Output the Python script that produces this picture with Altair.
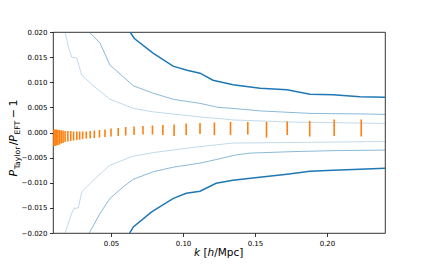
import altair as alt
import pandas as pd

# ---- data ----
# error bars (orange): k, lower, upper
eb_k = [0.0104, 0.0112, 0.0121, 0.0131, 0.0142, 0.0154, 0.0167, 0.0181, 0.0200, 0.0220,
        0.0240, 0.0262, 0.0282, 0.0303, 0.0328, 0.0355, 0.0384, 0.0420, 0.0458, 0.0500,
        0.0550, 0.0602, 0.0660, 0.0722, 0.0788, 0.0860, 0.0938, 0.1022, 0.1118, 0.1218,
        0.1330, 0.1450, 0.1580, 0.1724, 0.1880, 0.2050, 0.2238]
eb_lo = [-0.0027, -0.0027, -0.0026, -0.0025, -0.0024, -0.0022, -0.0021, -0.0019, -0.0018, -0.0017,
         -0.0016, -0.0015, -0.0014, -0.0013, -0.0012, -0.0012, -0.0011, -0.0010, -0.0009, -0.0008,
         -0.0007, -0.0006, -0.0005, -0.0004, -0.0004, -0.0005, -0.0007, -0.0005, -0.0003, -0.0005,
         -0.0005, -0.0004, -0.0010, -0.0005, -0.0008, -0.0007, -0.0008]
eb_hi = [0.0006, 0.0006, 0.0006, 0.0005, 0.0005, 0.0004, 0.0004, 0.0003, 0.0003, 0.0003,
         0.0002, 0.0002, 0.0002, 0.0002, 0.0002, 0.0003, 0.0004, 0.0005, 0.0006, 0.0008,
         0.0009, 0.0011, 0.0012, 0.0013, 0.0014, 0.0015, 0.0016, 0.0018, 0.0019, 0.0020,
         0.0021, 0.0021, 0.0021, 0.0022, 0.0023, 0.0026, 0.0026]

# thick (dark) envelope
thick_up_k = [0.0632, 0.0662, 0.0792, 0.0931, 0.1028, 0.1118, 0.1208, 0.1347, 0.1535, 0.1722, 0.1882, 0.2042, 0.2229, 0.2403]
thick_up_v = [0.0200, 0.0187, 0.0158, 0.0132, 0.0124, 0.0118, 0.0104, 0.0095, 0.0088, 0.0085, 0.0076, 0.0075, 0.0071, 0.0070]
thick_lo_k = [0.0630, 0.0655, 0.0782, 0.0933, 0.1023, 0.1118, 0.1230, 0.1347, 0.1500, 0.1722, 0.1882, 0.2042, 0.2229, 0.2403]
thick_lo_v = [-0.0200, -0.0188, -0.0158, -0.0131, -0.0121, -0.0117, -0.0101, -0.0095, -0.0090, -0.0083, -0.0077, -0.0075, -0.0073, -0.0071]

# medium envelope
mid_up_k = [0.0349, 0.0424, 0.0493, 0.0585, 0.0655, 0.0794, 0.0933, 0.1118, 0.1243, 0.1347, 0.1535, 0.1882, 0.2229, 0.2403]
mid_up_v = [0.0200, 0.0178, 0.0134, 0.0111, 0.0093, 0.0078, 0.0066, 0.0058, 0.0050, 0.0048, 0.0043, 0.0038, 0.0037, 0.0036]
mid_lo_k = [0.0349, 0.0424, 0.0493, 0.0585, 0.0655, 0.0794, 0.0933, 0.1118, 0.1243, 0.1361, 0.1465, 0.1767, 0.2063, 0.2403]
mid_lo_v = [-0.0200, -0.0161, -0.0131, -0.0108, -0.0093, -0.0078, -0.0069, -0.0061, -0.0053, -0.0045, -0.0041, -0.0038, -0.0036, -0.0035]

# faint envelope
faint_up_k = [0.0181, 0.0203, 0.0227, 0.0262, 0.0297, 0.0377, 0.0493, 0.0655, 0.0794, 0.1118, 0.1243, 0.1347, 0.1722, 0.2403]
faint_up_v = [0.0200, 0.0171, 0.0150, 0.0148, 0.0114, 0.0093, 0.0066, 0.0048, 0.0041, 0.0031, 0.0028, 0.0025, 0.0021, 0.0018]
faint_lo_k = [0.0181, 0.0227, 0.0243, 0.0273, 0.0297, 0.0377, 0.0493, 0.0655, 0.0794, 0.1118, 0.1347, 0.1722, 0.2403]
faint_lo_v = [-0.0200, -0.0161, -0.0151, -0.0150, -0.0118, -0.0095, -0.0065, -0.0047, -0.0040, -0.0028, -0.0021, -0.0020, -0.0018]

x_ticks = [0.05, 0.10, 0.15, 0.20]
y_ticks = [-0.020, -0.015, -0.010, -0.005, 0.000, 0.005, 0.010, 0.015, 0.020]
x_domain = [0.0097, 0.2403]
y_domain = [-0.020, 0.020]

W, H = 332, 201
FONT = "DejaVu Sans"

x_axis = alt.Axis(values=x_ticks, format=".2f", title=None)
y_axis = alt.Axis(values=y_ticks, format=".3f", title=None)


def curve_df(ks, vs, name):
    return pd.DataFrame({"k": ks, "v": vs, "c": name, "o": list(range(len(ks)))})


xs = alt.X("k:Q", scale=alt.Scale(domain=x_domain, nice=False, zero=False), axis=x_axis)
ys = alt.Y("v:Q", scale=alt.Scale(domain=y_domain, nice=False, zero=False), axis=y_axis)


def envelope(dfs, color, width, opacity):
    df = pd.concat(dfs, ignore_index=True)
    return alt.Chart(df).mark_line(color=color, strokeWidth=width, opacity=opacity, clip=True).encode(
        x=xs, y=ys, detail="c:N", order="o:Q")


faint = envelope([curve_df(faint_up_k, faint_up_v, "u"), curve_df(faint_lo_k, faint_lo_v, "l")],
                 "#1f77b4", 0.8, 0.35)
mid = envelope([curve_df(mid_up_k, mid_up_v, "u"), curve_df(mid_lo_k, mid_lo_v, "l")],
               "#1f77b4", 0.8, 0.65)
thick = envelope([curve_df(thick_up_k, thick_up_v, "u"), curve_df(thick_lo_k, thick_lo_v, "l")],
                 "#1f77b4", 1.5, 1.0)

eb_df = pd.DataFrame({"k": eb_k, "lo": eb_lo, "hi": eb_hi})
bars = alt.Chart(eb_df).mark_rule(color="#ff7f0e", strokeWidth=1.6, clip=True).encode(
    x=alt.X("k:Q", scale=alt.Scale(domain=x_domain, nice=False, zero=False), axis=x_axis),
    y=alt.Y("lo:Q", scale=alt.Scale(domain=y_domain, nice=False, zero=False), axis=y_axis),
    y2="hi:Q")

one = pd.DataFrame({"a": [0]})


def piece(text, x, y, size, italic=False, angle=0):
    kw = dict(text=text, font=FONT, fontSize=size, align="left", baseline="alphabetic", color="black")
    if italic:
        kw["fontStyle"] = "italic"
    if angle:
        kw["angle"] = angle
    return alt.Chart(one).mark_text(**kw).encode(x=alt.value(x), y=alt.value(y))


# x-axis title: k [h/Mpc]
xb = 224
s = 10.5
xt = [
    piece("k", 141, xb, s, italic=True),
    piece("[", 141 + 0.579 * s + 0.318 * s, xb, s),
    piece("h", 141 + 0.579 * s + 0.318 * s + 0.39 * s, xb, s, italic=True),
    piece("/Mpc]", 141 + 0.579 * s + 0.318 * s + 0.39 * s + 0.634 * s, xb, s),
]

# y-axis title: P_Taylor / P_EFT - 1 (rotated)
m, sb = 11, 7.7
xm, xsub = -36, -33.5
y0 = 144.5
yP1 = y0
yT = yP1 - 0.603 * m - 0.5
ySl = yT - 3.117 * sb
yP2 = ySl - 0.337 * m
yE = yP2 - 0.603 * m - 0.5
yM = yE - 1.818 * sb - 2.4
y1 = yM - 0.838 * m - 2.4
yt = [
    piece("P", xm, yP1, m, italic=True, angle=270),
    piece("Taylor", xsub, yT, sb, angle=270),
    piece("/", xm, ySl, m, angle=270),
    piece("P", xm, yP2, m, italic=True, angle=270),
    piece("EFT", xsub, yE, sb, angle=270),
    piece("\u2212", xm, yM, m, angle=270),
    piece("1", xm, y1, m, angle=270),
]

chart = alt.layer(faint, mid, thick, bars, *xt, *yt).properties(
    width=W, height=H,
    autosize=alt.AutoSizeParams(type="none"),
    padding={"left": 45, "top": 24, "right": 35, "bottom": 26},
).configure_view(
    stroke="black", strokeWidth=0.8
).configure_axis(
    grid=False, domain=False, ticks=True, tickColor="black", tickWidth=0.8, tickSize=3.5,
    labelFont=FONT, labelFontSize=7, labelColor="black", labelPadding=2.5,
    labelOverlap=False, labelFlush=False,
)

chart.save("out.html", embed_options={"renderer": "svg", "actions": False})
